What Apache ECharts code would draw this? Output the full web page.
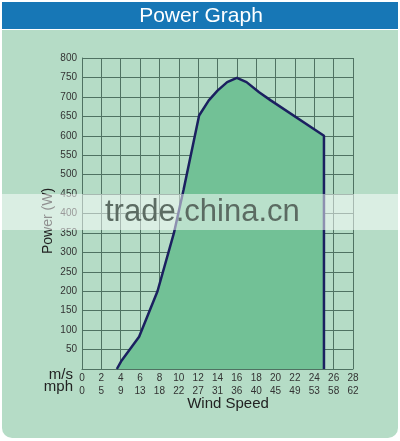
<!DOCTYPE html>
<html>
<head>
<meta charset="utf-8">
<title>Power Graph</title>
<script src="https://cdn.jsdelivr.net/npm/echarts@6/dist/echarts.min.js"></script>
<style>
  html, body { margin: 0; padding: 0; background: #ffffff; }
  #chart { width: 400px; height: 441px; }
</style>
</head>
<body>
<div id="chart"></div>
<script>
// wind speed (m/s) and power (W)
const windSpeed = [3.6, 4.1, 5.9, 7.8, 9.5, 10.5, 12.1, 13.1, 14, 15, 16, 17, 18.3, 19.5, 25, 25];
const power = [0, 22, 83, 200, 350, 462, 652, 691, 716, 738, 749, 738, 712, 691, 600, 0];

// tick labels under the x axis
const msTicks = ['0', '2', '4', '6', '8', '10', '12', '14', '16', '18', '20', '22', '24', '26', '28'];
const mphTicks = ['0', '5', '9', '13', '18', '22', '27', '31', '36', '40', '45', '49', '53', '58', '62'];

const chart = echarts.init(document.getElementById('chart'));

const gridColor = '#4f7262';
const font = 'Liberation Sans, Arial, sans-serif';

const option = {
  backgroundColor: '#ffffff',
  animation: false,
  textStyle: { fontFamily: font },
  grid: { left: 82, right: 47, top: 58, bottom: 72 },
  xAxis: {
    type: 'value',
    min: 0,
    max: 28,
    interval: 2,
    axisLine: { show: true, lineStyle: { color: gridColor, width: 1 } },
    axisTick: { show: false },
    splitLine: { show: true, lineStyle: { color: gridColor, width: 1 } },
    axisLabel: {
      margin: 3,
      formatter: function (v) {
        const i = Math.round(v / 2);
        return '{a|' + msTicks[i] + '}\n{b|' + mphTicks[i] + '}';
      },
      rich: {
        a: { fontSize: 10, color: '#333', lineHeight: 13, fontFamily: font },
        b: { fontSize: 10, color: '#333', lineHeight: 13, fontFamily: font }
      }
    }
  },
  yAxis: {
    type: 'value',
    min: 0,
    max: 800,
    interval: 50,
    axisLine: { show: true, lineStyle: { color: gridColor, width: 1 } },
    axisTick: { show: false },
    splitLine: { show: true, lineStyle: { color: gridColor, width: 1 } },
    axisLabel: {
      margin: 5,
      fontSize: 10,
      color: '#333',
      formatter: function (v) { return v === 0 ? '' : v; }
    }
  },
  series: [{
    type: 'line',
    data: windSpeed.map((x, i) => [x, power[i]]),
    symbol: 'none',
    lineStyle: { color: '#1b2060', width: 2.5 },
    areaStyle: { color: '#72c196', opacity: 1, origin: 'start' },
    z: 3
  }],
  graphic: [
    // green panel behind everything
    {
      type: 'rect', z: -10, silent: true,
      shape: { x: 2, y: 30, width: 396, height: 408, r: [0, 0, 10, 10] },
      style: { fill: '#b5dcc6' }
    },
    // blue header
    {
      type: 'rect', z: -5, silent: true,
      shape: { x: 2, y: 2, width: 396, height: 27 },
      style: { fill: '#1777b6' }
    },
    {
      type: 'text', z: 10, silent: true,
      style: { x: 201, y: 16, text: 'Power Graph', fill: '#ffffff', fontSize: 21, fontFamily: font, align: 'center', verticalAlign: 'middle' }
    },
    // y axis title, placed by hand so it sits close to the labels
    {
      type: 'text', z: 10, silent: true,
      x: 48, y: 221, rotation: Math.PI / 2,
      style: { x: 0, y: 0, text: 'Power (W)', fill: '#222', fontSize: 14, fontFamily: font, align: 'center', verticalAlign: 'middle' }
    },
    // unit labels for the two tick rows
    {
      type: 'text', z: 10, silent: true,
      style: { x: 73, y: 375, text: 'm/s', fill: '#222', fontSize: 15, fontFamily: font, align: 'right', verticalAlign: 'middle' }
    },
    {
      type: 'text', z: 10, silent: true,
      style: { x: 73, y: 387, text: 'mph', fill: '#222', fontSize: 15, fontFamily: font, align: 'right', verticalAlign: 'middle' }
    },
    {
      type: 'text', z: 10, silent: true,
      style: { x: 228, y: 404, text: 'Wind Speed', fill: '#222', fontSize: 15, fontFamily: font, align: 'center', verticalAlign: 'middle' }
    },
    // watermark band across the middle
    {
      type: 'rect', z: 50, silent: true,
      shape: { x: 0, y: 194, width: 400, height: 36 },
      style: { fill: 'rgba(255,255,255,0.5)' }
    },
    {
      type: 'text', z: 51, silent: true,
      style: { x: 105, y: 212, text: 'trade.china.cn', fill: 'rgba(85,100,92,0.95)', fontSize: 31, fontFamily: font, align: 'left', verticalAlign: 'middle' }
    }
  ]
};

chart.setOption(option);
</script>
</body>
</html>
